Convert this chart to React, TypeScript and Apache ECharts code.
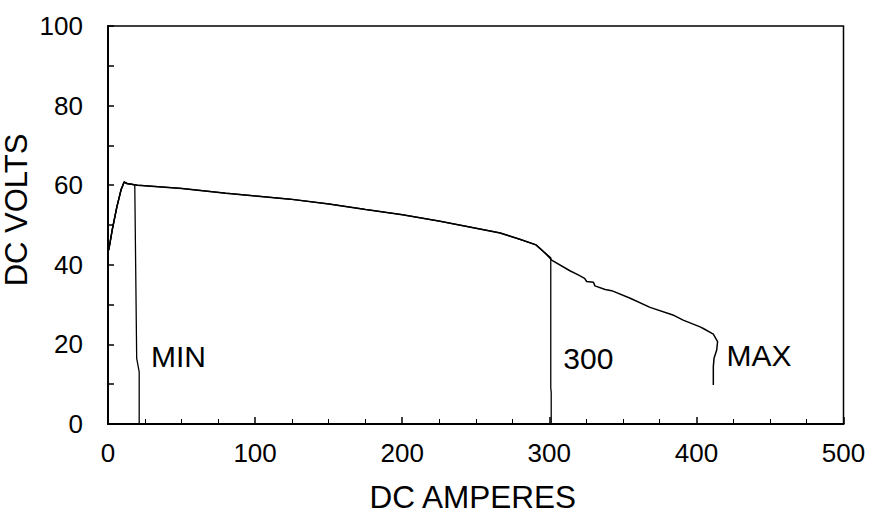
import React, { useEffect, useRef } from "react";
import * as echarts from "echarts";

const xTickLabels = ["0", "100", "200", "300", "400", "500"];
const yTickLabels = ["0", "20", "40", "60", "80", "100"];

// shared rising start + plateau
const startCurve: number[][] = [
  [0.5, 43.7], [3, 49], [6, 54.5], [9, 59], [11, 60.8], [13, 60.4],
];

const minCurve: number[][] = [
  ...startCurve,
  [18.2, 60.1], [19.5, 16.5], [21.2, 13.1], [21.2, 0],
];

const mainCurve: number[][] = [
  [20, 60.0], [50, 59.2], [80, 58.0], [100, 57.3], [123.7, 56.5], [150, 55.3],
  [175, 53.9], [200, 52.6], [225, 51.0], [250, 49.2], [266.5, 48.0], [280, 46.4],
  [291, 45.0], [297, 43.0],
];

const curve300: number[][] = [
  ...startCurve, ...mainCurve, [301, 41.8], [301, 9], [301.3, 8], [301.3, 0],
];

const maxCurve: number[][] = [
  ...startCurve, ...mainCurve,
  [301.6, 41.2], [314, 38.5], [320, 37.4], [324, 36.6], [325.4, 35.8], [330, 35.6],
  [331, 34.7], [338, 33.8], [342.4, 33.5], [355, 31.6], [368.5, 29.3], [384, 27.4],
  [391, 26.1], [402.5, 24.4], [404.7, 24], [411.5, 22.6], [414.4, 20.7], [413.8, 18.6],
  [412, 16.5], [411.5, 14.4], [411.5, 9.8],
];

const annotations = [
  { name: "MIN", value: [29.2, 17.0] },
  { name: "300", value: [309.5, 16.4] },
  { name: "MAX", value: [420.5, 17.3] },
];

const FONT = "'Liberation Sans', Arial, Helvetica, sans-serif";

export default function App() {
  const ref = useRef<HTMLDivElement>(null);
  useEffect(() => {
    if (!ref.current) return;
    const chart = echarts.init(ref.current, undefined, { renderer: "svg" });
    const lineSeries = (data: number[][], width: number) => ({
      type: "line",
      data,
      showSymbol: false,
      symbol: "none",
      smooth: false,
      lineStyle: { color: "#000", width },
      silent: true,
    });
    chart.setOption({
      animation: false,
      backgroundColor: "#fff",
      grid: {
        left: 108,
        right: 26.5,
        top: 26,
        bottom: 97,
        show: true,
        borderColor: "#000",
        borderWidth: 1.5,
        containLabel: false,
        outerBoundsMode: "none",
      },
      xAxis: {
        type: "value",
        min: 0,
        max: 500,
        interval: 100,
        name: "DC AMPERES",
        nameLocation: "middle",
        nameGap: 57,
        nameMoveOverlap: false,
        nameTextStyle: { fontSize: 31.5, color: "#000", fontFamily: FONT, padding: [0, 6, 0, 0] },
        axisLine: { show: true, lineStyle: { color: "#000", width: 2 } },
        axisTick: { show: true, inside: true, length: 7, lineStyle: { color: "#000", width: 1.5 } },
        minorTick: { show: true, splitNumber: 4, length: 5, lineStyle: { color: "#000", width: 1 } },
        splitLine: { show: false },
        axisLabel: {
          fontSize: 26,
          color: "#000",
          fontFamily: FONT,
          margin: 16,
          formatter: (v: number) => xTickLabels[Math.round(v / 100)] ?? "",
        },
      },
      yAxis: {
        type: "value",
        min: 0,
        max: 100,
        interval: 20,
        name: "DC VOLTS",
        nameLocation: "middle",
        nameGap: 76,
        nameMoveOverlap: false,
        nameTextStyle: { fontSize: 31, color: "#000", fontFamily: FONT, padding: [0, 0, 0, 30] },
        axisLine: { show: true, lineStyle: { color: "#000", width: 2 } },
        axisTick: { show: true, inside: true, length: 6, lineStyle: { color: "#000", width: 1.5 } },
        minorTick: { show: true, splitNumber: 2, length: 6, lineStyle: { color: "#000", width: 1.5 } },
        splitLine: { show: false },
        axisLabel: {
          fontSize: 26,
          color: "#000",
          fontFamily: FONT,
          margin: 25,
          formatter: (v: number) => yTickLabels[Math.round(v / 20)] ?? "",
        },
      },
      series: [
        lineSeries(minCurve, 1.3),
        lineSeries(curve300, 1.3),
        lineSeries(maxCurve, 1.5),
        {
          type: "scatter",
          data: annotations,
          symbolSize: 0,
          silent: true,
          itemStyle: { opacity: 1, color: "#000" },
          label: {
            show: true,
            position: "right",
            distance: 0,
            formatter: (p: any) => p.name,
            fontSize: 30,
            color: "#000",
            opacity: 1,
            fontFamily: FONT,
          },
        },
      ],
    });
    return () => chart.dispose();
  }, []);
  return <div ref={ref} style={{ width: 870, height: 521, position: "absolute", left: 0, top: 0 }} />;
}
